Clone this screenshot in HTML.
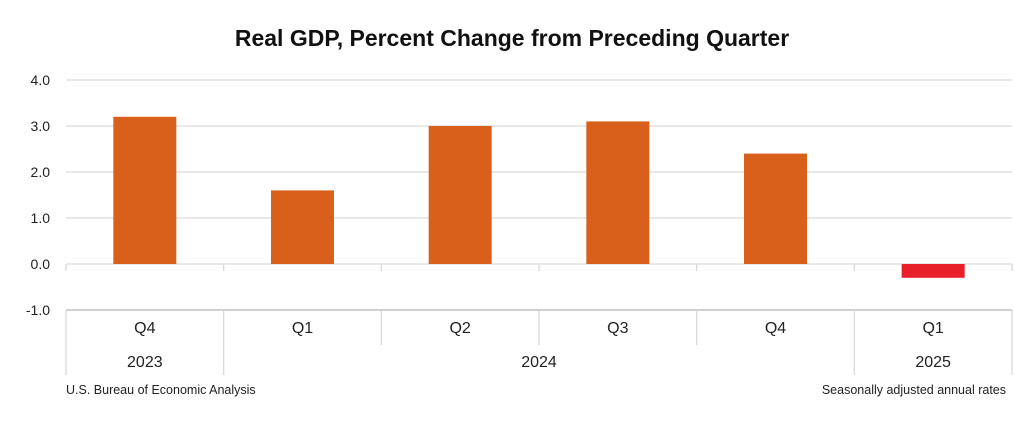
<!DOCTYPE html>
<html><head><meta charset="utf-8"><style>
body{margin:0;background:#fff;width:1015px;height:419px;overflow:hidden;font-family:"Liberation Sans",sans-serif}
</style></head><body>
<svg width="1015" height="419" id="c">
<text x="512" y="46" text-anchor="middle" font-size="23" font-weight="bold" fill="#111">Real GDP, Percent Change from Preceding Quarter</text>
<text x="66" y="394" font-size="12.5" fill="#222">U.S. Bureau of Economic Analysis</text>
<text x="1006" y="394" text-anchor="end" font-size="12.5" fill="#222">Seasonally adjusted annual rates</text>
</svg>
<script>
const categories=["Q4","Q1","Q2","Q3","Q4","Q1"];
const years=["2023","2024","2024","2024","2024","2025"];
const values=[3.2,1.6,3.0,3.1,2.4,-0.3];
const ticks=[4,3,2,1,0,-1];
const svg=document.getElementById('c');const NS="http://www.w3.org/2000/svg";
const L=66,R=1012,n=categories.length,cw=(R-L)/n;
const y=v=>264-v*46;
function mk(t,a){const e=document.createElementNS(NS,t);for(const k in a)e.setAttribute(k,a[k]);svg.appendChild(e);return e;}
ticks.forEach(t=>{
 if(t!==0){const g=mk('line',{x1:L,x2:R,y1:y(t),y2:y(t),stroke:t===-1?'#d0d0d0':'#d9d9d9','stroke-width':t===-1?2:1.3});
 
 }
 const tx=mk('text',{x:50,y:y(t)+5,'text-anchor':'end','font-size':14,fill:'#222'});tx.textContent=t.toFixed(1);
 
 
});
const z=mk('line',{x1:L,x2:R,y1:y(0),y2:y(0),stroke:'#d9d9d9','stroke-width':1.3});


for(let i=0;i<=n;i++){
 const x=L+i*cw;
 const yb=(i===0||i===1||i>=n-1)?375:345;
 const d=mk('line',{x1:x,x2:x,y1:y(-1),y2:yb,stroke:'#d9d9d9','stroke-width':1.3});
 
 
 const tk=mk('line',{x1:x,x2:x,y1:y(0),y2:y(0)+7,stroke:'#d9d9d9','stroke-width':1.3});
 
 
}
values.forEach((v,i)=>{
 const cx=L+(i+.5)*cw,w=63;
 const b=mk('rect',{x:cx-w/2,y:Math.min(y(v),y(0)),width:w,height:Math.abs(y(v)-y(0)),fill:v<0?'#e8202a':'#d9601a'});
 
 
 const t=mk('text',{x:cx,y:333,'text-anchor':'middle','font-size':16,fill:'#222'});t.textContent=categories[i];
 
 
});
[[0,1,"2023"],[1,5,"2024"],[5,6,"2025"]].forEach(([a,b,lab])=>{
 const t=mk('text',{x:L+(a+b)/2*cw,y:367,'text-anchor':'middle','font-size':16,fill:'#222'});t.textContent=lab;
 
 
});
</script>
</body></html>
